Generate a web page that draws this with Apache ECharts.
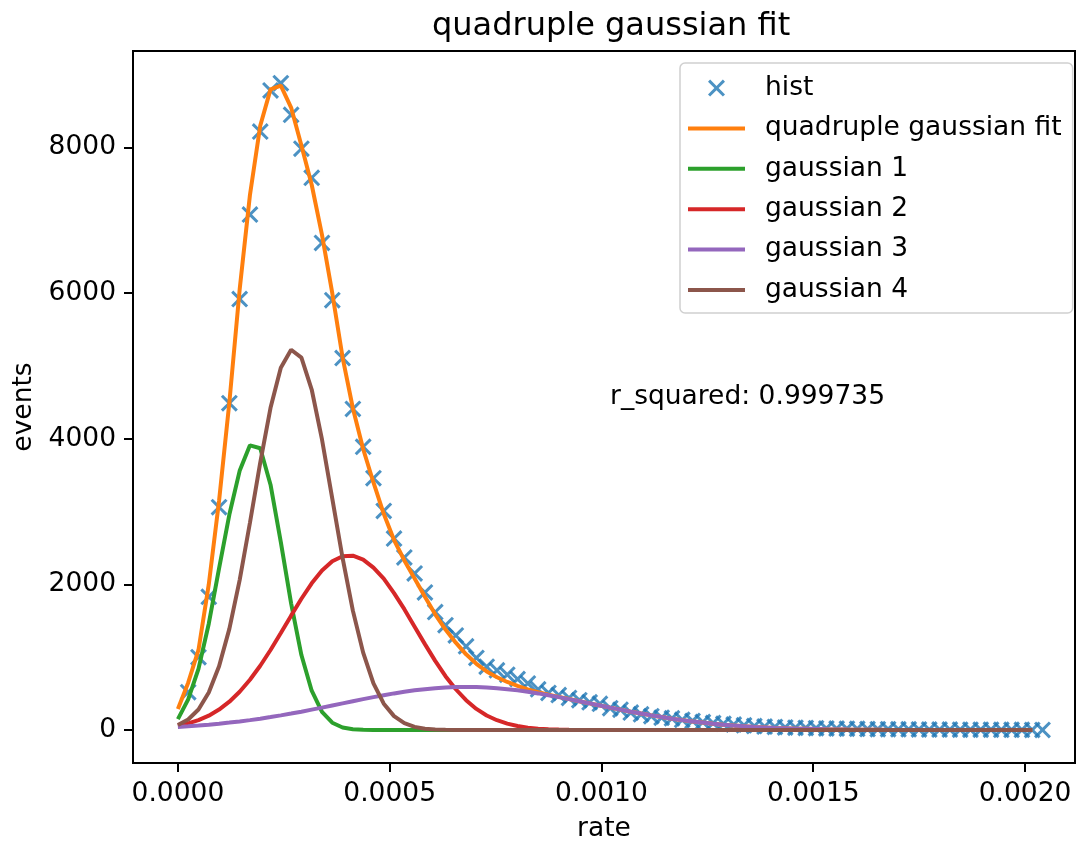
<!DOCTYPE html>
<html><head><meta charset="utf-8">
<script src="https://cdn.jsdelivr.net/npm/echarts@6/dist/echarts.min.js"></script>
<style>html,body{margin:0;padding:0;background:#fff}#c{width:1078px;height:843px}</style>
</head><body><div id="c"></div>
<script>
// histogram bin edges (rate)
const binEdges = [0,0.0000243,0.0000486,0.0000729,0.0000972,0.0001215,0.0001458,0.0001701,0.0001944,0.0002187,
0.000243,0.0002673,0.0002916,0.0003159,0.0003402,0.0003645,0.0003888,0.0004131,0.0004374,0.0004617,
0.000486,0.0005103,0.0005346,0.0005589,0.0005832,0.0006075,0.0006318,0.0006561,0.0006804,0.0007047,
0.000729,0.0007533,0.0007776,0.0008019,0.0008262,0.0008505,0.0008748,0.0008991,0.0009234,0.0009477,
0.000972,0.0009963,0.0010206,0.0010449,0.0010692,0.0010935,0.0011178,0.0011421,0.0011664,0.0011907,
0.001215,0.0012393,0.0012636,0.0012879,0.0013122,0.0013365,0.0013608,0.0013851,0.0014094,0.0014337,
0.001458,0.0014823,0.0015066,0.0015309,0.0015552,0.0015795,0.0016038,0.0016281,0.0016524,0.0016767,
0.001701,0.0017253,0.0017496,0.0017739,0.0017982,0.0018225,0.0018468,0.0018711,0.0018954,0.0019197,
0.001944,0.0019683,0.0019926,0.0020169,0.0020412];

// hist counts (plotted at right bin edges)
const hist = [520,1000,1830,3060,4490,5920,7080,8220,8785,8885,
8450,7985,7585,6690,5905,5110,4410,3890,3460,3010,
2630,2370,2150,1890,1620,1440,1300,1150,990,870,
820,760,700,640,560,510,480,440,410,380,
360,300,280,240,215,190,170,160,140,125,
110,95,85,75,65,55,48,42,36,32,
28,25,22,20,18,16,14,12,11,10,
9,8,7,6,6,5,5,4,4,3,
3,3,2,2];

// fitted curves (plotted at left bin edges)
const fitTotal = [290,650,1100,2000,3150,4500,6050,7350,8300,8800,
8850,8550,8030,7490,6800,6000,5120,4420,3860,3400,
2970,2610,2330,2080,1830,1590,1380,1200,1040,910,
805,725,660,605,558,520,485,455,425,396,
366,337,308,280,252,226,201,178,156,136,
118,102,87,74,62,52,43,36,29,24,
19,16,13,10,8,6,5,4,3,2,
2,1,1,0,0,0,0,0,0,0,
0,0,0,0];

const gauss1 = [150,420,840,1460,2220,2960,3560,3910,3870,3370,
2580,1740,1030,540,250,100,35,11,3,1,
0,0,0,0,0,0,0,0,0,0,0,0,0,0,0,0,0,0,0,0,
0,0,0,0,0,0,0,0,0,0,0,0,0,0,0,0,0,0,0,0,
0,0,0,0,0,0,0,0,0,0,0,0,0,0,0,0,0,0,0,0,
0,0,0,0];

const gauss2 = [58,90,135,197,281,389,525,690,883,1099,
1332,1571,1803,2015,2190,2318,2388,2395,2340,2230,
2080,1880,1660,1420,1180,950,740,560,410,290,
200,135,88,55,33,19,11,6,3,2,
1,0,0,0,0,0,0,0,0,0,0,0,0,0,0,0,0,0,0,0,
0,0,0,0,0,0,0,0,0,0,0,0,0,0,0,0,0,0,0,0,
0,0,0,0];

const gauss3 = [43,52,62,74,87,102,118,136,156,178,
201,226,252,280,308,337,366,395,424,452,
478,503,525,545,561,574,584,590,592,590,
584,574,561,545,525,503,478,452,424,395,
366,337,308,280,252,226,201,178,156,136,
118,102,87,74,62,52,43,36,29,24,
19,16,13,10,8,6,5,4,3,2,
2,1,1,0,0,0,0,0,0,0,
0,0,0,0];

const gauss4 = [69,145,282,515,875,1389,2059,2847,3674,4426,
4976,5223,5116,4677,3991,3179,2363,1640,1063,642,
362,191,94,43,18,7,3,1,0,0,
0,0,0,0,0,0,0,0,0,0,0,0,0,0,0,0,0,0,0,0,
0,0,0,0,0,0,0,0,0,0,0,0,0,0,0,0,0,0,0,0,
0,0,0,0,0,0,0,0,0,0,0,0,0,0];

const xTicks = [0, 0.0005, 0.001, 0.0015, 0.002];
const yTicks = [0, 2000, 4000, 6000, 8000];
const rSquaredText = 'r_squared: 0.999735';

const FONT = 'DejaVu Sans';
const FS = 26.5;
const curveX = binEdges.slice(0, binEdges.length - 1);
const histX = binEdges.slice(1);
const pair = (xs, ys) => ys.map((y, i) => [xs[i], y]);
const X_PATH = 'path://M0,1.25L1.25,0L5,3.75L8.75,0L10,1.25L6.25,5L10,8.75L8.75,10L5,6.25L1.25,10L0,8.75L3.75,5Z';
const LW = 4;

function lineSeries(name, ys, color) {
  return {
    name, type: 'line', data: pair(curveX, ys), showSymbol: false, symbol: 'none',
    lineStyle: { color, width: LW }, itemStyle: { color }, z: 3
  };
}

const chart = echarts.init(document.getElementById('c'), null, { renderer: 'canvas' });
chart.setOption({
  animation: false,
  backgroundColor: '#ffffff',
  textStyle: { fontFamily: FONT },
  title: {
    text: 'quadruple gaussian fit', left: 427, top: 6,
    textStyle: { fontFamily: FONT, fontSize: 32, fontWeight: 'normal', color: '#000' }
  },
  grid: { left: 133, right: 3, top: 51, bottom: 80, outerBoundsMode: 'none', containLabel: false,
    show: true, borderColor: '#000', borderWidth: 2, backgroundColor: 'transparent' },
  xAxis: {
    type: 'value', min: -0.000106, max: 0.002118,
    splitLine: { show: false },
    axisLine: { show: true, onZero: false, lineStyle: { color: '#000', width: 2 } },
    axisTick: { show: true, customValues: xTicks, length: 9, inside: false, lineStyle: { color: '#000', width: 2 } },
    axisLabel: { customValues: xTicks, formatter: v => v.toFixed(4), margin: 18, fontFamily: FONT, fontSize: FS, color: '#000' },
    name: 'rate', nameLocation: 'middle', nameGap: 53,
    nameTextStyle: { fontFamily: FONT, fontSize: FS, color: '#000' }
  },
  yAxis: {
    type: 'value', min: -453, max: 9327,
    splitLine: { show: false },
    axisLine: { show: true, onZero: false, lineStyle: { color: '#000', width: 2 } },
    axisTick: { show: true, customValues: yTicks, length: 9, inside: false, lineStyle: { color: '#000', width: 2 } },
    axisLabel: { customValues: yTicks, formatter: v => String(v), margin: 17, fontFamily: FONT, fontSize: FS, color: '#000' },
    name: 'events', nameLocation: 'middle', nameGap: 92, nameRotate: 90,
    nameTextStyle: { fontFamily: FONT, fontSize: FS, color: '#000' }
  },
  legend: {
    orient: 'vertical', left: 680, top: 63,
    padding: [10, 11, 8, 6],
    itemWidth: 57, itemHeight: 17, itemGap: 10.4,
    backgroundColor: 'rgba(255,255,255,0.8)', borderColor: '#d0d0d0', borderWidth: 1.5, borderRadius: 5,
    lineStyle: { width: LW },
    textStyle: { fontFamily: FONT, fontSize: FS, color: '#000', lineHeight: 30, padding: [0, 0, 0, 15] },
    data: [
      { name: 'hist' },
      { name: 'quadruple gaussian fit', itemStyle: { opacity: 0 } },
      { name: 'gaussian 1', itemStyle: { opacity: 0 } },
      { name: 'gaussian 2', itemStyle: { opacity: 0 } },
      { name: 'gaussian 3', itemStyle: { opacity: 0 } },
      { name: 'gaussian 4', itemStyle: { opacity: 0 } }
    ]
  },
  graphic: [{
    type: 'text', left: 610, top: 384, z: 10,
    style: { text: rSquaredText, font: FS + 'px "DejaVu Sans"', fill: '#000' }
  }],
  series: [
    {
      name: 'hist', type: 'scatter', data: pair(histX, hist),
      symbol: X_PATH, symbolSize: 17, itemStyle: { color: '#1f77b4' }, z: 2
    },
    lineSeries('quadruple gaussian fit', fitTotal, '#ff7f0e'),
    lineSeries('gaussian 1', gauss1, '#2ca02c'),
    lineSeries('gaussian 2', gauss2, '#d62728'),
    lineSeries('gaussian 3', gauss3, '#9467bd'),
    lineSeries('gaussian 4', gauss4, '#8c564b')
  ]
});
</script></body></html>
